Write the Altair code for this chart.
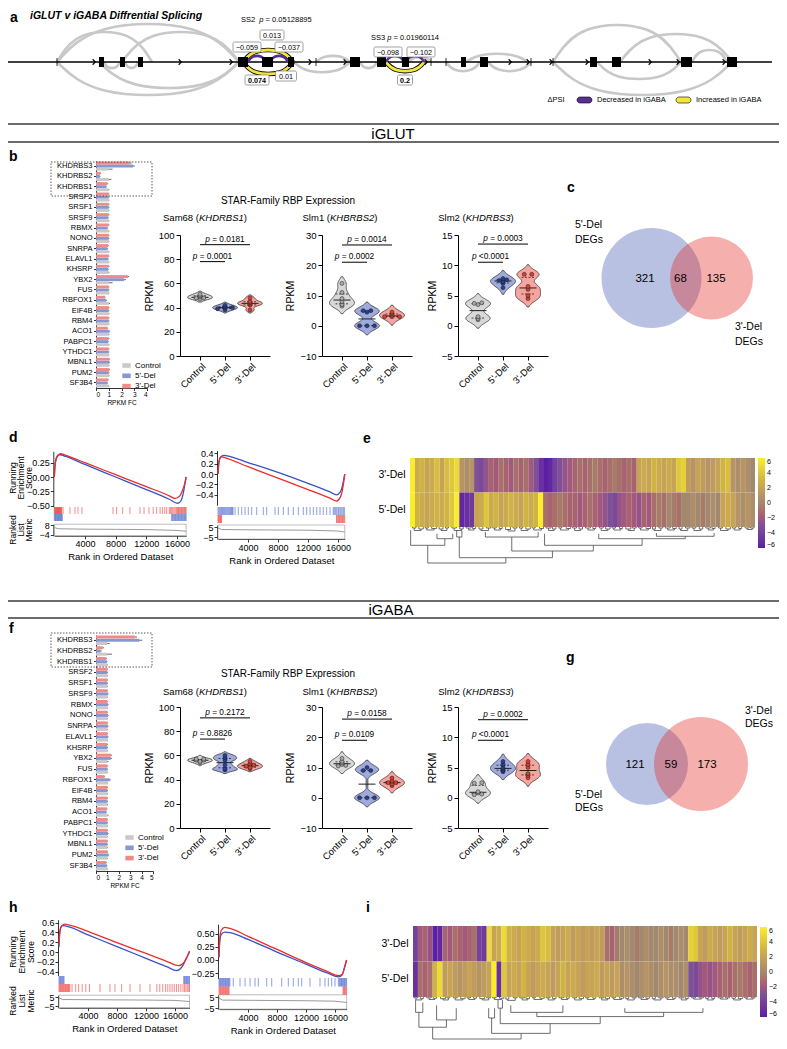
import altair as alt
import pandas as pd

W, H = 771, 1033
OX, OY = 8, 8
FONT = "Liberation Sans"


def px(v):
    return round(v - OX, 2)


def py(v):
    return round(v - OY, 2)


AW = {' ': 278, '(': 333, ')': 333, '-': 333, '\u2212': 584, '.': 278, '=': 584, '<': 584, "'": 191,
      'A': 667, 'B': 667, 'C': 722, 'D': 722, 'E': 667, 'F': 611, 'G': 778, 'H': 722, 'I': 278, 'K': 667,
      'L': 556, 'M': 833, 'N': 722, 'O': 778, 'P': 667, 'R': 722, 'S': 667, 'T': 611, 'U': 722, 'X': 667,
      'a': 556, 'b': 556, 'c': 500, 'd': 556, 'e': 556, 'g': 556, 'i': 222, 'l': 222, 'm': 833, 'n': 556,
      'o': 556, 'p': 556, 'r': 333, 's': 500, 't': 278, 'u': 556, 'y': 500}


def tw(s, size):
    return sum(AW.get(c, 556) for c in s) * size / 1000.0


ONE = pd.DataFrame({"k": [0]})
layers = []


def T(t, x, y, size=9, weight='normal', style='normal', align='center', baseline='middle', angle=0, color='black'):
    kw = dict(font=FONT, fontSize=size, fontWeight=weight, fontStyle=style, align=align, baseline=baseline, color=color)
    if angle:
        kw['angle'] = angle
    layers.append(alt.Chart(ONE).mark_text(**kw).encode(x=alt.value(px(x)), y=alt.value(py(y)), text=alt.value(t)))


def TM(parts, x, y, size, anchor='center', weight='normal'):
    total = sum(tw(s, size) + g * tw(' ', size) for s, st, g in parts)
    cur = x - total / 2.0 if anchor == 'center' else x
    for s, st, g in parts:
        cur += g * tw(' ', size)
        T(s, cur, y, size, weight=weight, style=st, align='left')
        cur += tw(s, size)


def hline(x1, x2, y, color='#3a3a3a', width=1.6):
    layers.append(alt.Chart(ONE).mark_rule(color=color, strokeWidth=width).encode(
        x=alt.value(px(x1)), x2=alt.value(px(x2)), y=alt.value(py(y))))


def box(x1, y1, x2, y2, fill='white', stroke='#777777', sw=0.7, dash=None, radius=0):
    kw = dict(fill=fill, stroke=stroke, strokeWidth=sw)
    if dash:
        kw['strokeDash'] = dash
    if radius:
        kw['cornerRadius'] = radius
    layers.append(alt.Chart(ONE).mark_rect(**kw).encode(
        x=alt.value(px(x1)), x2=alt.value(px(x2)), y=alt.value(py(y1)), y2=alt.value(py(y2))))


# =====================================================================
# DATA
# =====================================================================
# ---- panel a : splice graph (positions along the gene, junction arcs) ----
gene_span = [2, 772]
exon_start = [99, 120, 138, 238, 262, 288, 350, 377, 402, 461, 480, 590, 612, 681, 727]
exon_end = [104, 125, 143, 248, 273, 294, 360, 386, 409, 466, 488, 597, 621, 692, 737]
junction_ticks = [57, 316, 431, 446, 531, 553]
chevrons = [94, 180, 231, 310, 345, 426, 510, 528, 551, 587, 650, 678, 724]
arc_start = [57, 57, 122, 57, 99, 104, 125, 294, 316, 360, 409, 446, 466, 488, 553, 620, 553, 597, 692,
             243, 243, 386, 248, 270, 386, 406]
arc_end = [239, 152, 239, 239, 239, 120, 138, 350, 350, 377, 431, 480, 528, 531, 681, 732, 732, 681, 727,
           293, 293, 424, 266, 288, 404, 424]
arc_height = [38, 30, 30, -33, -26, -6, -6, -10, 6, -6, 5, -9, 8, -9, 37, 28, -33, -17, 12,
              12, -12, -9, 6, 6, 6, 6]
arc_kind = ['gray'] * 19 + ['yellow'] * 3 + ['purple'] * 4
dpsi_labels = ['0.013', '\u22120.059', '\u22120.037', '0.074', '0.01', '\u22120.098', '\u22120.102', '0.2']

# ---- panels b / f : RBP expression fold change ----
genes = ['KHDRBS3', 'KHDRBS2', 'KHDRBS1', 'SRSF2', 'SRSF1', 'SRSF9', 'RBMX', 'NONO', 'SNRPA', 'ELAVL1',
         'KHSRP', 'YBX2', 'FUS', 'RBFOX1', 'EIF4B', 'RBM4', 'ACO1', 'PABPC1', 'YTHDC1', 'MBNL1', 'PUM2', 'SF3B4']
CAT = ['Control', "5'-Del", "3'-Del"]
glut_ctrl = [1.0, 1.0, 1.0, 1.0, 1.0, 1.0, 1.0, 1.0, 1.0, 1.0, 1.0, 1.0, 1.0, 1.0, 1.0, 1.0, 1.0, 1.0, 1.0, 1.0, 1.0, 1.0]
glut_5 = [2.9, 0.3, 0.8, 1.0, 1.0, 0.95, 0.9, 1.0, 0.9, 0.95, 0.95, 2.2, 1.0, 0.8, 1.0, 1.0, 1.05, 0.95, 1.0, 1.05, 1.0, 0.9]
glut_3 = [2.6, 0.35, 0.9, 1.0, 1.0, 1.0, 1.0, 1.0, 0.95, 1.0, 1.0, 2.5, 1.0, 0.7, 1.0, 1.0, 0.9, 1.0, 1.0, 1.05, 1.05, 0.95]
glut_ctrl_err = [0.3, 0.2, 0.05, 0.05, 0.05, 0.05, 0.05, 0.05, 0.05, 0.05, 0.05, 0.3, 0.05, 0.1, 0.05, 0.05, 0.05, 0.05, 0.05, 0.05, 0.05, 0.05]
glut_5_err = [0.15, 0.05, 0.05, 0.05, 0.05, 0.05, 0.05, 0.05, 0.05, 0.05, 0.05, 0.15, 0.05, 0.05, 0.05, 0.05, 0.05, 0.05, 0.05, 0.05, 0.05, 0.05]
glut_3_err = [0.2, 0.05, 0.05, 0.05, 0.05, 0.05, 0.05, 0.05, 0.05, 0.05, 0.05, 0.1, 0.05, 0.05, 0.05, 0.05, 0.05, 0.05, 0.05, 0.05, 0.05, 0.05]
gaba_ctrl = [1.0, 1.0, 1.0, 1.0, 1.0, 1.0, 1.0, 1.0, 1.0, 1.0, 1.0, 1.0, 1.0, 1.0, 1.0, 1.0, 1.0, 1.0, 1.0, 1.0, 1.0, 1.0]
gaba_5 = [3.8, 0.4, 0.95, 1.0, 1.0, 1.05, 1.05, 1.05, 1.05, 1.05, 1.0, 1.3, 1.0, 1.2, 1.0, 1.0, 0.9, 1.0, 1.05, 1.0, 1.1, 0.95]
gaba_3 = [3.4, 0.6, 0.9, 1.0, 1.0, 1.0, 1.0, 1.0, 1.0, 1.0, 1.0, 1.3, 1.0, 0.75, 1.0, 1.0, 0.95, 1.0, 1.0, 1.0, 1.0, 0.9]
gaba_ctrl_err = [0.2, 0.4, 0.05, 0.05, 0.05, 0.05, 0.05, 0.05, 0.05, 0.05, 0.05, 0.1, 0.05, 0.05, 0.05, 0.05, 0.1, 0.05, 0.05, 0.05, 0.05, 0.05]
gaba_5_err = [0.25, 0.1, 0.05, 0.05, 0.05, 0.05, 0.05, 0.05, 0.05, 0.05, 0.05, 0.1, 0.05, 0.1, 0.05, 0.05, 0.05, 0.05, 0.05, 0.05, 0.05, 0.05]
gaba_3_err = [0.2, 0.1, 0.05, 0.05, 0.05, 0.05, 0.05, 0.05, 0.05, 0.05, 0.05, 0.1, 0.05, 0.05, 0.05, 0.05, 0.05, 0.05, 0.05, 0.05, 0.05, 0.05]

# ---- violin panels (RPKM per replicate) ----
glut_sam68 = [[47, 48, 48, 49, 50, 51], [38, 39, 40, 40, 41, 42], [38, 42, 43, 44, 45, 48]]
glut_slm1 = [[6.5, 7, 8, 9, 11, 14], [0, 0, 0, 4.5, 5, 5], [3, 3, 3, 3.5, 4, 4.5]]
glut_slm2 = [[1.0, 1.2, 1.5, 3.5, 3.7, 3.8], [6.3, 7.0, 7.3, 7.5, 7.6, 7.8], [4.5, 5.0, 6.0, 6.5, 8.5, 8.5]]
gaba_sam68 = [[54, 55, 56, 56, 57, 57], [48, 49, 52, 56, 58, 60], [49, 50, 51, 52, 53, 55]]
gaba_slm1 = [[10.5, 10.7, 11, 11.5, 12, 13], [0, 0, 0, 9, 9, 10], [4, 4.5, 5, 5, 5.5, 6.5]]
gaba_slm2 = [[0.5, 0.6, 0.8, 1.0, 2.4, 2.5], [4.3, 4.5, 4.7, 5.0, 5.5, 6.0], [3.3, 3.7, 4.0, 5.0, 5.5, 6.0]]
glut_p = [['p = 0.0001', 'p = 0.0181'], ['p = 0.0002', 'p = 0.0014'], ['p <0.0001', 'p = 0.0003']]
gaba_p = [['p = 0.8826', 'p = 0.2172'], ['p = 0.0109', 'p = 0.0158'], ['p <0.0001', 'p = 0.0002']]
glut_bracket_y = [[78, 92], [21, 26.7], [10.5, 13.5]]
gaba_bracket_y = [[73.5, 91], [19, 26], [9.5, 12.9]]

# ---- Venn counts ----
c_counts = [321, 68, 135]
g_counts = [121, 59, 173]

# ---- GSEA running enrichment scores ----
d1_rank_r = [0, 100, 300, 600, 800, 1500, 4000, 8000, 12000, 15000, 15700, 16300, 16700, 17000, 17200]
d1_es_r = [0, 0.2, 0.33, 0.39, 0.41, 0.38, 0.25, 0.04, -0.17, -0.33, -0.375, -0.34, -0.24, -0.12, 0.0]
d1_rank_b = [0, 100, 300, 600, 800, 1500, 4000, 8000, 12000, 15000, 16100, 16500, 16800, 17000, 17200]
d1_es_b = [0, 0.22, 0.35, 0.39, 0.39, 0.36, 0.22, 0.0, -0.22, -0.39, -0.46, -0.42, -0.3, -0.15, 0.0]
d2_rank_r = [0, 100, 300, 500, 1000, 4000, 8000, 12000, 15000, 15800, 16300, 16600, 16800, 16900]
d2_es_r = [0, 0.2, 0.31, 0.33, 0.31, 0.14, -0.08, -0.3, -0.47, -0.52, -0.45, -0.3, -0.12, 0.0]
d2_rank_b = [0, 100, 300, 800, 1200, 4000, 8000, 12000, 15000, 15800, 16300, 16600, 16800, 16900]
d2_es_b = [0, 0.2, 0.32, 0.36, 0.35, 0.22, 0.03, -0.18, -0.35, -0.4, -0.35, -0.22, -0.08, 0.0]
h1_rank_r = [0, 100, 300, 800, 1500, 4000, 8000, 12000, 15000, 16500, 17200, 17600, 18000]
h1_es_r = [0.15, 0.4, 0.52, 0.57, 0.55, 0.42, 0.19, -0.03, -0.2, -0.28, -0.22, -0.12, 0.0]
h1_rank_b = [0, 100, 300, 500, 1000, 4000, 8000, 12000, 15000, 16200, 17000, 17500, 18000]
h1_es_b = [0.1, 0.38, 0.52, 0.54, 0.53, 0.35, 0.11, -0.13, -0.31, -0.38, -0.3, -0.15, 0.02]
h2_rank_r = [0, 100, 300, 800, 1500, 4000, 8000, 12000, 15000, 16500, 17000, 17300, 17600]
h2_es_r = [0.05, 0.4, 0.56, 0.62, 0.6, 0.45, 0.2, -0.05, -0.22, -0.3, -0.27, -0.15, 0.0]
h2_rank_b = [0, 100, 300, 800, 1500, 4000, 8000, 12000, 15000, 16500, 17000, 17300, 17600]
h2_es_b = [0.05, 0.35, 0.48, 0.53, 0.52, 0.39, 0.15, -0.08, -0.25, -0.32, -0.28, -0.15, 0.0]

# ---- GSEA gene hits (rank positions) ----
d1_hits_r = [0, 60, 120, 180, 240, 300, 360, 420, 480, 540, 600, 660, 720, 780, 840, 900, 960, 1140, 2040, 2700,
             3090, 3610, 7660, 8130, 8920, 9870, 11180, 11700, 12350, 12900, 13350, 13800, 14100, 14400, 14660,
             15000, 15150, 15300, 15450, 15600, 15750, 15900, 16000, 16100, 16200, 16300, 16400, 16500, 16600,
             16700, 16800, 16900, 17000, 17100, 17200]
d1_hits_b = [0, 80, 160, 240, 320, 400, 480, 560, 640, 720, 800, 880, 960, 1040, 15300, 15400, 15500, 15600,
             15700, 15800, 15900, 16000, 16100, 16200, 16300, 16400, 16500, 16600, 16700, 16800, 16900, 17000,
             17100, 17200]
d2_hits_b = [0, 120, 240, 360, 480, 600, 720, 840, 960, 1080, 1200, 1320, 1440, 1560, 1680, 1800, 1920, 2000,
             2270, 2710, 3160, 3600, 4040, 4490, 5160, 6040, 6490, 7600, 8040, 8710, 9370, 10040, 10710, 11370,
             11820, 12270, 12710, 13160, 13600, 14040, 14490, 14930, 15370, 15500, 15650, 15820, 16000, 16100,
             16270, 16400, 16550, 16710, 16850]
d2_hits_r = [0, 80, 160, 240, 320, 400, 480, 15800, 15900, 16000, 16100, 16200, 16300, 16400, 16500, 16600,
             16700, 16800, 16900]
h1_hits_b = [0, 100, 200, 300, 400, 500, 600, 700, 17200, 17300, 17400, 17500, 17600, 17700, 17800, 17900, 18000]
h1_hits_r = [0, 100, 200, 300, 400, 500, 600, 700, 800, 900, 1000, 1100, 1200, 1300, 1400, 1500, 1800, 2300,
             2700, 3200, 3700, 4200, 5650, 7030, 7720, 8640, 9800, 11170, 12550, 13500, 13900, 14300, 14700,
             15000, 15300, 15600, 15900, 16200, 16500, 16800, 17100, 17300, 17500, 17700, 17900, 18000]
h2_hits_b = [0, 100, 200, 300, 400, 500, 600, 700, 800, 900, 1000, 1100, 1200, 1300, 1400, 1500, 1970, 2900,
             3590, 4280, 4970, 5420, 6580, 7270, 8650, 9560, 10250, 10940, 11410, 12550, 13930, 14620, 15080,
             15540, 16000, 16460, 16600, 16700, 16800, 16900, 17000, 17100, 17200, 17300, 17400, 17500, 17600]
h2_hits_r = [0, 100, 200, 300, 400, 500, 600, 700, 800, 900, 1000, 1100, 1200, 1300, 1400, 17100, 17200, 17300,
             17400, 17500, 17600]

# ---- GSEA ranked list metric ----
d1_metric_rank = [0, 500, 4000, 8000, 12000, 16000, 17200]
d1_metric = [5, 3.5, 3, 2.8, 2.5, 1.5, 0.5]
d2_metric_rank = [0, 500, 4000, 8000, 12000, 16000, 16900]
d2_metric = [4, 2.5, 2.2, 2, 1.8, 1, 0]
h1_metric_rank = [0, 500, 4000, 8000, 12000, 16000, 18000]
h1_metric = [4, 2.2, 2, 1.8, 1.6, 1.2, 0]
h2_metric_rank = [0, 500, 4000, 8000, 12000, 16000, 17600]
h2_metric = [4, 2.2, 2, 1.8, 1.6, 1.2, 0]

# ---- heatmaps (log2 FC per gene cluster column) ----
e_3del = [6, 2.5, 3, 2, 2.5, 3.5, 2, 3.5, 4, 5, 1, 0.5, 1, -3, -3.5, -2.5, -1.5, -2, -1, -1.5, -2, -1, -1.5, -1, -2,
          -3, -5, -6, -5.5, -4, -3, -2.5, -2, -1.5, -1, -1.5, -1, -0.5, -1, -1.5, -1, -0.5, -1, -1.5, -1, -1.5,
          2, 2.5, 2, 3, 2.5, 2, 2.5, 2, 4, 4.5, 1.5, 1, 2, 1.5, 1, 1.5, 2, 3, 3.5, 1, 0.5, 1, 0.5, 0]
e_5del = [6, 3, 2.5, 2, 2.5, 3, 2.5, 3, 4, 6, -5.5, -5, -4.5, 2, 2.5, 4, 2.5, 3, 2, 2.5, 3, 2.5, 2, 3, 2.5, 3, 6,
          -1, -1.5, -1, -0.5, -1, -1.5, -1.5, -2, -1.5, -1, -1.5, -2, -2.5, -3, -3.5, -2.5, -2, -1.5, -2, -2.5,
          -1.5, -2, -1, -0.5, -1, 0, -0.5, -1, 0, 0, 0.5, 0, -0.5, 0, 0.5, 0, 2, 2.5, 2, 1, 0.5, 1, 0.5]
i_3del = [-4, -2, -1.5, -2.5, -6, -5.5, -1.5, -2, -1, -1.5, -2, -1.5, -1, -4, -4.5, 5, 2, 2.5, 5, 3, 2.5, 2, 3, 2.5,
          2, 2.5, 4, 3.5, 2, 1.5, 2, 2.5, 1.5, 2, 1.5, 2, 1.5, 2, 1.5, -1, -1.5, -0.5, 0, 0.5, 0, -0.5, 0, 0.5, 0,
          0, 0.5, 0, -0.5, 0, 0.5, 0, 4.5, 4, 2, 1.5, 2.5, 2, 1.5, 2, 3, 2, 1.5, 2, 2.5, 2]
i_5del = [-5, -1, -1.5, -1, 3, 5, 1.5, 2, 1.5, 1, 1.5, 2, 1.5, 1, 1.5, 2, 6, -5, 4, 2, 2.5, 2, 3, 2, 1.5, 2, 2.5, 2,
          1.5, 2, 3, 2, 2.5, 2, 1.5, 2, 2, 2.5, 1.5, 2, 1.5, 2, 0.5, 1, 0.5, 0, 0.5, 1, 0.5, 0, 0.5, 1, 0.5, 0.5,
          0, 0.5, -3, -3.5, -2.5, -2, -2.5, -2, -1.5, -1, -1.5, -1, -0.5, -1, -1.5, -1]

# ---- dendrograms: merges (left x, left height, right x, right height, merge height) ----
e_ml_x = [5.47, 0.13, 9.47, 15.3, 50, 38.3, 27.3, 20.65, 10, 3.6]
e_ml_h = [6.7, 3.3, 3.3, 5, 6, 6.7, 6.7, 10, 10, 18.3]
e_mr_x = [8.67, 7.07, 10.53, 26, 61.7, 55.85, 47.1, 37.2, 28.9, 19.45]
e_mr_h = [6.7, 11.7, 3.3, 5, 6, 9.3, 11.7, 18.3, 24, 30.7]
e_m_h = [11.7, 18.3, 10, 10, 9.3, 11.7, 18.3, 24, 30.7, 36]
e_fringe_x = [0.5, 1.8, 3.1, 4.4, 5.9, 7.2, 8.5, 10.1, 11.4, 12.7, 14.0, 15.5, 16.8, 18.1, 19.4, 20.9, 22.2, 23.5,
              24.8, 26.3, 27.6, 28.9, 30.2, 31.7, 33.0, 34.3, 35.6, 37.1, 38.4, 39.7, 41.0, 42.5, 43.8, 45.1, 46.4,
              47.9, 49.2, 50.5, 51.8, 53.3, 54.6, 55.9, 57.2, 58.7, 60.0, 61.3, 62.6, 64.1, 65.4, 66.7, 68.0, 69.1]
e_fringe_w = [0.7, 0.9, 0.6, 1.0, 0.8, 0.6, 0.9, 0.7, 1.0, 0.6, 0.8, 0.9, 0.7, 0.6, 1.0, 0.8, 0.7, 0.9, 0.6, 0.8,
              1.0, 0.7, 0.6, 0.9, 0.8, 0.7, 1.0, 0.6, 0.8, 0.9, 0.7, 0.6, 1.0, 0.8, 0.7, 0.9, 0.6, 0.8, 1.0, 0.7,
              0.6, 0.9, 0.8, 0.7, 1.0, 0.6, 0.8, 0.9, 0.7, 0.6, 0.8, 0.7]
e_fringe_h = [1, 2, 1, 1.5, 2, 1, 1, 2, 1, 1.5, 2, 1, 1, 1.5, 2.5, 1, 1, 2, 1, 1.5, 1, 2, 1, 1.5, 1,
              2, 1, 1.5, 1, 2, 1, 1.5, 2, 1, 1, 1.5, 2, 1, 1, 1.5, 2, 1, 1, 2, 1, 1.5, 1, 2, 1, 1.5, 1, 1]
i_ml_x = [0.53, 4.8, 1.2, 15.4, 17.3, 19.9, 43.1, 25.2, 17.75, 16.0, 4.0]
i_ml_h = [3.3, 10, 18.3, 13.3, 3.3, 10, 13.3, 18.3, 13.3, 25, 36]
i_mr_x = [2.0, 8.8, 6.8, 16.6, 18.2, 30.5, 59, 51, 38.1, 27.9, 22.0]
i_mr_h = [6.7, 13.3, 27.3, 13.3, 3.3, 10, 13.3, 18.3, 23.3, 31.7, 43.3]
i_m_h = [18.3, 27.3, 36, 25, 13.3, 18.3, 18.3, 23.3, 31.7, 43.3, 50]
i_fringe_x = [0.2, 1.5, 2.8, 4.1, 5.6, 6.9, 8.2, 9.7, 11.0, 12.3, 13.6, 15.0, 16.2, 17.6, 18.9, 20.4, 21.7, 23.0,
              24.3, 25.8, 27.1, 28.4, 29.7, 31.2, 32.5, 33.8, 35.1, 36.6, 37.9, 39.2, 40.5, 42.0, 43.3, 44.6, 45.9,
              47.4, 48.7, 50.0, 51.3, 52.8, 54.1, 55.4, 56.7, 58.2, 59.5, 60.8, 62.1, 63.6, 64.9, 66.2, 67.5, 68.8]
i_fringe_w = [0.8, 0.6, 0.9, 0.7, 1.0, 0.6, 0.8, 0.9, 0.7, 0.6, 1.0, 0.8, 0.7, 0.9, 0.6, 0.8, 1.0, 0.7, 0.6, 0.9,
              0.8, 0.7, 1.0, 0.6, 0.8, 0.9, 0.7, 0.6, 1.0, 0.8, 0.7, 0.9, 0.6, 0.8, 1.0, 0.7, 0.6, 0.9, 0.8, 0.7,
              1.0, 0.6, 0.8, 0.9, 0.7, 0.6, 1.0, 0.8, 0.7, 0.9, 0.6, 0.8]
i_fringe_h = [1, 2, 1, 1.5, 2, 1, 1, 2, 1, 1.5, 2, 1, 1, 1.5, 2.5, 1, 1, 2, 1, 1.5, 1, 2, 1, 1.5, 1,
              2, 1, 1.5, 1, 2, 1, 1.5, 2, 1, 1, 1.5, 2, 1, 1, 1.5, 1, 2, 1, 1, 1.5, 2, 1, 1, 1.5, 2, 1, 1]

# =====================================================================
# STYLE
# =====================================================================
BARC = ['#c9c9c9', '#8797d0', '#f08a86']
VFILL = ['#d8d8d8', '#9eabdc', '#f5a4a0']
VPT = ['#a8a8a8', '#2c3f8e', '#d9402f']
RED, BLUE = '#ee2c2c', '#3552c6'
HEAT_DOM = [-6, -3, 0, 3, 6]
HEAT_RNG = ['#5b1fa3', '#7e5196', '#a2886f', '#cfb444', '#fbee27']

# =====================================================================
# section rules & headers
# =====================================================================
for yy in (124, 142, 601, 618):
    hline(0, 780, yy)
T('iGLUT', 393, 133.5, 15)
T('iGABA', 391, 609.5, 15)

for lab, lx, ly in [('a', 10, 18), ('b', 9, 157), ('c', 567, 188), ('d', 9, 438), ('e', 363, 439),
                    ('f', 9, 629), ('g', 566, 658), ('h', 9, 908), ('i', 366, 908)]:
    T(lab, lx, ly, 14, weight='bold', align='left')

# =====================================================================
# panel a
# =====================================================================
T('iGLUT v iGABA Diffrential Splicing', 30, 16, 10.5, weight='bold', style='italic', align='left')
AX = alt.Scale(domain=[0, 787], range=[px(0), px(787)], nice=False, zero=False)
AY = alt.Scale(domain=[-45, 45], range=[py(107), py(17)], nice=False, zero=False)

arc_rows = []
for i, (s, e, hgt, kd) in enumerate(zip(arc_start, arc_end, arc_height, arc_kind)):
    K = hgt * 1.044
    wdt = e - s
    for o, (xx, yy) in enumerate([(s, 0), (s + 0.2 * wdt, K), (e - 0.2 * wdt, K), (e, 0)]):
        arc_rows.append({'id': i, 'o': o, 'x': xx, 'y': yy, 'kind': kd})
arcs = pd.DataFrame(arc_rows)


def arc_layer(kind, color, width):
    return alt.Chart(arcs[arcs.kind == kind]).mark_line(interpolate='basis', color=color, strokeWidth=width).encode(
        x=alt.X('x:Q', scale=AX, axis=None), y=alt.Y('y:Q', scale=AY, axis=None),
        detail='id:N', order='o:Q')


layers.append(arc_layer('gray', '#c8c8c8', 2.6))
layers.append(alt.Chart(pd.DataFrame({'s': [gene_span[0]], 'e': [gene_span[1]]})).mark_rule(
    color='black', strokeWidth=1.3).encode(x=alt.X('s:Q', scale=AX, axis=None), x2='e:Q', y=alt.value(py(62))))
layers.append(arc_layer('yellow', 'black', 4.6))
layers.append(arc_layer('yellow', '#f3e63a', 2.8))
layers.append(arc_layer('purple', '#5a2d91', 2.6))
layers.append(alt.Chart(pd.DataFrame({'s': exon_start, 'e': exon_end})).mark_rect(color='black').encode(
    x=alt.X('s:Q', scale=AX, axis=None), x2='e:Q', y=alt.value(py(57)), y2=alt.value(py(67))))
layers.append(alt.Chart(pd.DataFrame({'p': junction_ticks})).mark_rule(color='black', strokeWidth=0.8).encode(
    x=alt.X('p:Q', scale=AX, axis=None), y=alt.value(py(58)), y2=alt.value(py(66))))
layers.append(alt.Chart(pd.DataFrame({'p': chevrons})).mark_point(
    shape='M-0.5,-1L0.5,0L-0.5,1', filled=False, color='black', strokeWidth=1.1, size=30, opacity=1).encode(
    x=alt.X('p:Q', scale=AX, axis=None), y=alt.value(py(62))))

TM([('SS2', 'normal', 0), ('p', 'italic', 2), ('= 0.05128895', 'normal', 1)], 241, 19.5, 7.5, anchor='left')
TM([('SS3', 'normal', 0), ('p', 'italic', 1), ('= 0.01960114', 'normal', 1)], 371, 37.5, 7.5, anchor='left')
for lab, cx, cy, bw_, bold in zip(dpsi_labels, [272, 247, 289, 257, 286, 388, 421, 405],
                                  [35, 47, 47, 80, 76, 52, 52, 80], [24, 28, 28, 24, 21, 28, 28, 15],
                                  [0, 0, 0, 1, 0, 0, 0, 1]):
    box(cx - bw_ / 2, cy - 5, cx + bw_ / 2, cy + 5, stroke='#7a7a7a', sw=0.7, radius=1.5)
    T(lab, cx, cy + 0.5, 7.2, weight='bold' if bold else 'normal')
T('\u0394PSI', 556, 100, 7.5)
box(577, 97, 592, 103, fill='#5a2d91', stroke='black', sw=0.6, radius=3)
T('Decreased in iGABA', 597, 100, 7.5, align='left')
box(676, 97, 691, 103, fill='#f3e63a', stroke='black', sw=0.6, radius=3)
T('Increased in iGABA', 696, 100, 7.5, align='left')


# =====================================================================
# bar charts b / f
# =====================================================================
def bar_panel(ctrl, d5, d3, ec, e5, e3, y0, y1, xmax, x1, lgx, lgy):
    df = pd.DataFrame({'gene': genes * 3, 'grp': ['Control'] * 22 + ["5'-Del"] * 22 + ["3'-Del"] * 22,
                       'fc': ctrl + d5 + d3, 'err': ec + e5 + e3})
    df['hi'] = df['fc'] + df['err']
    ys = alt.Scale(domain=genes, range=[py(y0), py(y1)], paddingInner=0.12, paddingOuter=0.05)
    yo = alt.Scale(domain=["3'-Del", "5'-Del", 'Control'], paddingInner=0.05)
    xs = alt.Scale(domain=[0, xmax], range=[px(96), px(x1)], nice=False, zero=True)
    bars = alt.Chart(df).mark_bar().encode(
        y=alt.Y('gene:N', scale=ys, axis=alt.Axis(orient='left', offset=-px(96), title='', labelFontSize=7.5,
                                                   tickSize=2.5, labelPadding=1.5, domainWidth=0.8, tickWidth=0.8)),
        yOffset=alt.YOffset('grp:N', scale=yo),
        x=alt.X('fc:Q', scale=xs, axis=alt.Axis(orient='bottom', offset=py(y1) - H, values=list(range(xmax + 1)),
                                                 title='RPKM FC', titleFontSize=6.5, labelFontSize=6.5, tickSize=2.5,
                                                 titlePadding=1, labelPadding=1, domainWidth=0.8, tickWidth=0.8)),
        color=alt.Color('grp:N', scale=alt.Scale(domain=CAT, range=BARC),
                        legend=alt.Legend(orient='none', legendX=px(lgx), legendY=py(lgy), title='',
                                          labelFontSize=8, symbolType='M-1,-0.55L1,-0.55L1,0.55L-1,0.55Z',
                                          symbolSize=70, symbolStrokeWidth=0, rowPadding=1.3, labelOffset=4,
                                          padding=0)))
    errs = alt.Chart(df).mark_rule(color='black', strokeWidth=0.6).encode(
        y=alt.Y('gene:N', scale=ys, axis=None), yOffset=alt.YOffset('grp:N', scale=yo),
        x=alt.X('fc:Q', scale=xs, axis=None), x2='hi:Q')
    layers.append(bars)
    layers.append(errs)


bar_panel(glut_ctrl, glut_5, glut_3, glut_ctrl_err, glut_5_err, glut_3_err, 161, 388, 4, 147, 122, 361)
box(51, 162, 152, 196, fill='transparent', stroke='#333333', sw=0.8, dash=[1.5, 1.5])
bar_panel(gaba_ctrl, gaba_5, gaba_3, gaba_ctrl_err, gaba_5_err, gaba_3_err, 635, 871, 5, 153, 125, 833)
box(51, 633, 152, 667, fill='transparent', stroke='#333333', sw=0.8, dash=[1.5, 1.5])

# =====================================================================
# violins
# =====================================================================
LABEXPR = "['Control', \"5'-Del\", \"3'-Del\"][datum.value]"


def violin_panel(vals, ax_x, y_top, y_bot, dom, ticks, bw, binsz, levels, ptexts):
    rows = [{'cat': c, 'idx': i, 'value': v} for i, c in enumerate(CAT) for v in vals[i]]
    df = pd.DataFrame(rows)
    xs = alt.Scale(domain=[-0.8, 2.8], range=[px(ax_x), px(ax_x + 90)], nice=False, zero=False)
    ys = alt.Scale(domain=dom, range=[py(y_bot), py(y_top)], nice=False, zero=False)
    xaxis = alt.Axis(orient='bottom', offset=py(y_bot) - H, values=[0, 1, 2], labelExpr=LABEXPR, labelAngle=-45,
                     labelFontSize=9.5, tickSize=4, title='', labelPadding=1, domainWidth=1)
    yaxis = alt.Axis(orient='left', offset=-px(ax_x), values=ticks, labelFontSize=9.5, tickSize=4, title='RPKM',
                     titleFontSize=10.5, titlePadding=4, labelPadding=2, domainWidth=1)
    area = (alt.Chart(df)
            .transform_density('value', as_=['value', 'density'], groupby=['cat', 'idx'], extent=dom,
                               bandwidth=bw, steps=200)
            .transform_joinaggregate(maxd='max(density)', groupby=['cat'])
            .transform_calculate(w='0.5*datum.density/datum.maxd')
            .transform_filter('datum.w > 0.03')
            .transform_calculate(lft='datum.idx - datum.w', rgt='datum.idx + datum.w')
            .mark_area(orient='horizontal', stroke='#3a3a3a', strokeWidth=0.8)
            .encode(y=alt.Y('value:Q', scale=ys, axis=yaxis), x=alt.X('lft:Q', scale=xs, axis=xaxis),
                    x2='rgt:Q', fill=alt.Fill('cat:N', scale=alt.Scale(domain=CAT, range=VFILL), legend=None)))
    layers.append(area)
    stats = (alt.Chart(df).transform_aggregate(med='median(value)', q1='q1(value)', q3='q3(value)',
                                               groupby=['cat', 'idx']))
    layers.append(stats.transform_calculate(l='datum.idx-0.34', r='datum.idx+0.34')
                  .mark_rule(color='#222222', strokeWidth=1)
                  .encode(x=alt.X('l:Q', scale=xs, axis=None), x2='r:Q', y=alt.Y('med:Q', scale=ys, axis=None)))
    layers.append(stats.transform_fold(['q1', 'q3'], as_=['k', 'qv'])
                  .transform_calculate(l='datum.idx-0.26', r='datum.idx+0.26')
                  .mark_rule(color='#222222', strokeWidth=0.8, strokeDash=[2, 1.5])
                  .encode(x=alt.X('l:Q', scale=xs, axis=None), x2='r:Q', y=alt.Y('qv:Q', scale=ys, axis=None)))
    pts = (alt.Chart(df)
           .transform_calculate(vb='round(datum.value/%f)' % binsz)
           .transform_window(r='row_number()', groupby=['cat', 'vb'])
           .transform_joinaggregate(n='count()', groupby=['cat', 'vb'])
           .transform_calculate(xp='datum.idx + (datum.r - (datum.n+1)/2)*0.3')
           .mark_point(filled=True, size=16, stroke='#1a1a1a', strokeWidth=0.5, opacity=1)
           .encode(x=alt.X('xp:Q', scale=xs, axis=None), y=alt.Y('value:Q', scale=ys, axis=None),
                   fill=alt.Fill('cat:N', scale=alt.Scale(domain=CAT, range=VPT), legend=None)))
    layers.append(pts)
    br = pd.DataFrame({'s': [0, 0], 'e': [1, 2], 'lvl': levels, 'm': [0.5, 1.0]})
    layers.append(alt.Chart(br).mark_rule(color='black', strokeWidth=1).encode(
        x=alt.X('s:Q', scale=xs, axis=None), x2='e:Q', y=alt.Y('lvl:Q', scale=ys, axis=None)))
    for j in range(2):
        t = ptexts[j]
        rest = t[1:].strip()
        size = 8.3
        total = tw('p', size) + tw(' ', size) + tw(rest, size)
        one = pd.DataFrame({'m': [br['m'][j]], 'lvl': [levels[j]]})
        layers.append(alt.Chart(one).mark_text(font=FONT, fontSize=size, fontStyle='italic', align='left',
                                                baseline='alphabetic', dx=-total / 2, dy=-3).encode(
            x=alt.X('m:Q', scale=xs, axis=None), y=alt.Y('lvl:Q', scale=ys, axis=None), text=alt.value('p')))
        layers.append(alt.Chart(one).mark_text(font=FONT, fontSize=size, align='left', baseline='alphabetic',
                                                dx=-total / 2 + tw('p ', size), dy=-3).encode(
            x=alt.X('m:Q', scale=xs, axis=None), y=alt.Y('lvl:Q', scale=ys, axis=None), text=alt.value(rest)))


for vals, ax_x, dom, ticks, bw, bz, lv, pt in [
        (glut_sam68, 180, [0, 100], [0, 20, 40, 60, 80, 100], 1.5, 1.2, glut_bracket_y[0], glut_p[0]),
        (glut_slm1, 322, [-10, 30], [-10, 0, 10, 20, 30], 1.3, 0.5, glut_bracket_y[1], glut_p[1]),
        (glut_slm2, 458, [-5, 15], [-5, 0, 5, 10, 15], 0.7, 0.25, glut_bracket_y[2], glut_p[2])]:
    violin_panel(vals, ax_x, 235, 356, dom, ticks, bw, bz, lv, pt)
for vals, ax_x, dom, ticks, bw, bz, lv, pt in [
        (gaba_sam68, 180, [0, 100], [0, 20, 40, 60, 80, 100], 1.5, 1.2, gaba_bracket_y[0], gaba_p[0]),
        (gaba_slm1, 322, [-10, 30], [-10, 0, 10, 20, 30], 1.3, 0.5, gaba_bracket_y[1], gaba_p[1]),
        (gaba_slm2, 458, [-5, 15], [-5, 0, 5, 10, 15], 0.7, 0.25, gaba_bracket_y[2], gaba_p[2])]:
    violin_panel(vals, ax_x, 707, 828, dom, ticks, bw, bz, lv, pt)

for ty, sy in [(201, 218), (674, 692)]:
    T('STAR-Family RBP Expression', 288, ty, 10)
    TM([('Sam68 (', 'normal', 0), ('KHDRBS1', 'italic', 0), (')', 'normal', 0)], 205, sy, 9.5)
    TM([('Slm1 (', 'normal', 0), ('KHBRBS2', 'italic', 0), (')', 'normal', 0)], 340, sy, 9.5)
    TM([('Slm2 (', 'normal', 0), ('KHDRBS3', 'italic', 0), (')', 'normal', 0)], 476, sy, 9.5)


# =====================================================================
# Venn diagrams c / g
# =====================================================================
def venn(counts, cx5, cx3, cy, sizes, ny, nx0, nx1):
    tot = [counts[0] + counts[1], counts[2] + counts[1]]
    df = pd.DataFrame({'set': ["5'-Del", "3'-Del"], 'total': tot})
    layers.append(alt.Chart(df).mark_circle(opacity=0.36).encode(
        x=alt.X('set:N', scale=alt.Scale(type='point', domain=["5'-Del", "3'-Del"], range=[px(cx5), px(cx3)],
                                         padding=0), axis=None),
        y=alt.value(py(cy)),
        size=alt.Size('total:Q', scale=alt.Scale(domain=[min(tot), max(tot)], range=sizes), legend=None),
        color=alt.Color('set:N', scale=alt.Scale(domain=["5'-Del", "3'-Del"], range=['#3d53af', '#e3241f']),
                        legend=None)))
    nd = pd.DataFrame({'reg': ['a', 'ab', 'b'], 'n': [str(v) for v in counts]})
    layers.append(alt.Chart(nd).mark_text(font=FONT, fontSize=11.5).encode(
        x=alt.X('reg:N', scale=alt.Scale(type='point', domain=['a', 'ab', 'b'], range=[px(nx0), px(nx1)],
                                         padding=0), axis=None),
        y=alt.value(py(ny)), text='n:N'))


venn(c_counts, 651.5, 711.5, 278, [6889, 10000], 279, 645, 716)
T("5'-Del", 575, 225, 10.5, align='left')
T('DEGs', 575, 240, 10.5, align='left')
T("3'-Del", 735, 327, 10.5, align='left')
T('DEGs', 735, 342, 10.5, align='left')
venn(g_counts, 647, 701, 764, [6724, 8836], 765, 635, 707)
T("3'-Del", 745, 711, 10.5, align='left')
T('DEGs', 745, 724, 10.5, align='left')
T("5'-Del", 575, 795, 10.5, align='left')
T('DEGs', 575, 808, 10.5, align='left')


# =====================================================================
# GSEA panels d / h
# =====================================================================
def gsea(x0, k, N, rr, er, rb, eb, es_top, es_bot, es_dom, es_ticks, es_fmt,
         top_col, hr, hb, h_top, h_bot, mr, mv, m_top, m_bot, m_dom, m_ticks):
    x_end = x0 + N * k / 1000.0
    xs = alt.Scale(domain=[0, N], range=[px(x0), px(x_end)], nice=False, zero=False)
    es = pd.DataFrame({'rank': rb + rr, 'es': eb + er, 's': ['blue'] * len(rb) + ['red'] * len(rr)})
    layers.append(alt.Chart(es).mark_line(interpolate='monotone', strokeWidth=1.3).encode(
        x=alt.X('rank:Q', scale=xs, axis=None),
        y=alt.Y('es:Q', scale=alt.Scale(domain=es_dom, range=[py(es_bot), py(es_top)], nice=False, zero=False),
                axis=alt.Axis(orient='left', offset=-px(x0 - 1), values=es_ticks, format=es_fmt, labelFontSize=9,
                              tickSize=3, title='', labelPadding=1, domainWidth=0.8, tickWidth=0.8)),
        color=alt.Color('s:N', scale=alt.Scale(domain=['blue', 'red'], range=[BLUE, RED]), legend=None),
        detail='s:N'))
    other = 'blue' if top_col == 'red' else 'red'
    top_list = hr if top_col == 'red' else hb
    bot_list = hb if top_col == 'red' else hr
    hd = pd.DataFrame({'rank': top_list + bot_list,
                       'row': ['top'] * len(top_list) + ['bot'] * len(bot_list),
                       'col': [top_col] * len(top_list) + [other] * len(bot_list)})
    band = (h_bot - h_top) / 2.0
    layers.append(alt.Chart(hd).mark_tick(thickness=1, size=band, opacity=0.55).encode(
        x=alt.X('rank:Q', scale=xs, axis=None),
        y=alt.Y('row:N', scale=alt.Scale(domain=['top', 'bot'], range=[py(h_top), py(h_bot)], paddingInner=0,
                                         paddingOuter=0), axis=None),
        color=alt.Color('col:N', scale=alt.Scale(domain=['red', 'blue'], range=[RED, BLUE]), legend=None)))
    box(x0, m_top, x_end, m_bot, fill='transparent', stroke='#a0a0a0', sw=0.7)
    md = pd.DataFrame({'rank': mr, 'm': mv})
    layers.append(alt.Chart(md).mark_line(color='#9a9a9a', strokeWidth=1).encode(
        x=alt.X('rank:Q', scale=xs, axis=alt.Axis(orient='bottom', offset=py(m_bot) - H,
                                                   values=[4000, 8000, 12000, 16000], format='d',
                                                   title='Rank in Ordered Dataset', titleFontSize=9.5,
                                                   labelFontSize=9, tickSize=3, labelPadding=1, titlePadding=3,
                                                   domainWidth=0.8, tickWidth=0.8)),
        y=alt.Y('m:Q', scale=alt.Scale(domain=m_dom, range=[py(m_bot), py(m_top)], nice=False, zero=False),
                axis=alt.Axis(orient='left', offset=-px(x0 - 1), values=m_ticks, labelFontSize=9, tickSize=3,
                              title='', labelPadding=1, domainWidth=0.8, tickWidth=0.8))))


gsea(54.3, 7.667, 17200, d1_rank_r, d1_es_r, d1_rank_b, d1_es_b, 451.3, 506.7, [-0.52, 0.45],
     [0.25, 0, -0.25, -0.5], '.2f', 'red', d1_hits_r, d1_hits_b, 507, 521,
     d1_metric_rank, d1_metric, 524.2, 535.8, [-5, 9], [8, -4])
gsea(218, 7.5, 16900, d2_rank_r, d2_es_r, d2_rank_b, d2_es_b, 450.6, 505.2, [-0.6, 0.45],
     [0.4, 0.2, 0, -0.2, -0.4], '.1f', 'blue', d2_hits_r, d2_hits_b, 507, 523,
     d2_metric_rank, d2_metric, 525, 539, [-7, 7], [5, -5])
gsea(59, 7.25, 18000, h1_rank_r, h1_es_r, h1_rank_b, h1_es_b, 919.7, 975.5, [-0.48, 0.66],
     [0.6, 0.4, 0.2, 0, -0.2, -0.4], '.1f', 'blue', h1_hits_r, h1_hits_b, 976, 992,
     h1_metric_rank, h1_metric, 995.2, 1007.8, [-7, 7], [5, -5])
gsea(219, 7.25, 17600, h2_rank_r, h2_es_r, h2_rank_b, h2_es_b, 924.2, 978.4, [-0.35, 0.68],
     [0.5, 0.25, 0, -0.25], '.2f', 'blue', h2_hits_r, h2_hits_b, 978, 995,
     h2_metric_rank, h2_metric, 994.8, 1009.1, [-6, 7], [5, -5])

for (xs_, yc1, yc2) in [((13, 21, 29), 478, 530), ((13, 22, 31), 952, 1001)]:
    for xx, word in zip(xs_, ['Running', 'Enrichment', 'Score']):
        T(word, xx, yc1, 8.5, angle=270)
    for xx, word in zip(xs_, ['Ranked', 'List', 'Metric']):
        T(word, xx, yc2, 8.5, angle=270)


# =====================================================================
# heatmaps e / i with dendrograms
# =====================================================================
def heatmap(v3, v5, x0, x1, y0, y1, lgx, lgy, ml_x, ml_h, mr_x, mr_h, m_h, fr_x, fr_w, fr_h, hmax, hpx):
    n = len(v3)
    df = pd.DataFrame({'c': list(range(n)) * 2, 'row': ["3'-Del"] * n + ["5'-Del"] * n, 'v': v3 + v5})
    xs = alt.Scale(domain=[0, n], range=[px(x0), px(x1)], nice=False, zero=False)
    layers.append(alt.Chart(df).transform_calculate(c2='datum.c + 1').mark_rect().encode(
        x=alt.X('c:Q', scale=xs, axis=None), x2='c2:Q',
        y=alt.Y('row:N', scale=alt.Scale(domain=["3'-Del", "5'-Del"], range=[py(y0), py(y1)], paddingInner=0,
                                         paddingOuter=0),
                axis=alt.Axis(orient='left', offset=-px(x0), title='', labelFontSize=10.5, ticks=False,
                              domain=False, labelPadding=5)),
        color=alt.Color('v:Q', scale=alt.Scale(domain=HEAT_DOM, range=HEAT_RNG, type='linear'),
                        legend=alt.Legend(orient='none', legendX=px(lgx), legendY=py(lgy), direction='vertical',
                                          title='', gradientLength=90, gradientThickness=7, labelFontSize=7,
                                          values=[-6, -4, -2, 0, 2, 4, 6], labelOffset=2, gradientStrokeWidth=0,
                                          padding=0))))
    segs = []
    for a, ah, b, bh, hh in zip(ml_x, ml_h, mr_x, mr_h, m_h):
        segs += [(a, ah, a, hh), (b, bh, b, hh), (a, hh, b, hh)]
    mids = []
    for a, wd, hh in zip(fr_x, fr_w, fr_h):
        segs += [(a, 0, a, hh), (a + wd, 0, a + wd, hh), (a, hh, a + wd, hh)]
        mids.append((a + wd / 2.0, hh))
    for j in range(0, len(mids) - 1, 2):
        (a, ah), (b, bh) = mids[j], mids[j + 1]
        hh = max(ah, bh) + 1.5
        segs += [(a, ah, a, hh), (b, bh, b, hh), (a, hh, b, hh)]
    sd = pd.DataFrame(segs, columns=['x1', 'y1', 'x2', 'y2'])
    layers.append(alt.Chart(sd).mark_rule(color='#4a4a4a', strokeWidth=0.8).encode(
        x=alt.X('x1:Q', scale=xs, axis=None), x2='x2:Q',
        y=alt.Y('y1:Q', scale=alt.Scale(domain=[0, hmax], range=[py(y1), py(y1 + hpx)], nice=False, zero=False),
                axis=None), y2='y2:Q'))


heatmap(e_3del, e_5del, 410, 755, 458, 527, 758, 458, e_ml_x, e_ml_h, e_mr_x, e_mr_h, e_m_h,
        e_fringe_x, e_fringe_w, e_fringe_h, 36, 36)
heatmap(i_3del, i_5del, 413, 757, 926, 997, 760, 927, i_ml_x, i_ml_h, i_mr_x, i_mr_h, i_m_h,
        i_fringe_x, i_fringe_w, i_fringe_h, 50, 42)

# =====================================================================
chart = (alt.layer(*layers)
         .resolve_scale(x='independent', y='independent', color='independent', fill='independent',
                        size='independent', yOffset='independent')
         .resolve_axis(x='independent', y='independent')
         .resolve_legend(color='independent', fill='independent', size='independent')
         .properties(width=W, height=H, autosize=alt.AutoSizeParams(type='none'), padding=0)
         .configure_view(strokeWidth=0)
         .configure_axis(grid=False, labelFont=FONT, titleFont=FONT, labelColor='black', titleColor='black',
                         domainColor='black', tickColor='black', titleFontWeight='normal', labelOverlap=False)
         .configure_legend(labelFont=FONT, labelColor='black'))

chart.save("out.html", embed_options={"renderer": "svg", "actions": False})
